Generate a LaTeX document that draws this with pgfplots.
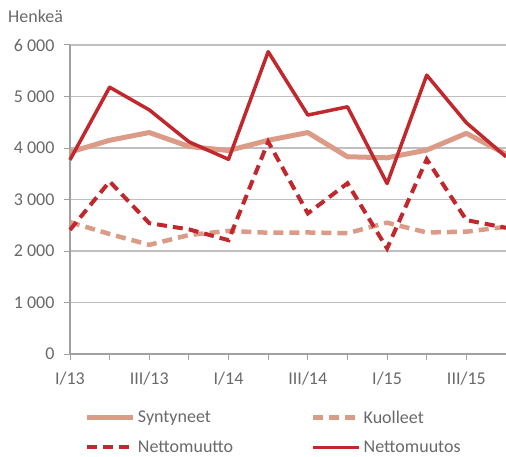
\documentclass[border=0pt]{standalone}
\usepackage{fontspec}
\setmainfont{Carlito}
\usepackage{pgfplots}
\pgfplotsset{compat=1.18}
\definecolor{dred}{RGB}{192,40,45}
\definecolor{lsal}{RGB}{220,155,135}
\definecolor{tgray}{RGB}{105,105,105}
\definecolor{gridgray}{RGB}{191,191,191}
\definecolor{axgray}{RGB}{160,160,160}
\pgfplotstableread{
x syn kuo netto nettos
0  3920 2560 2410 3770
1  4150 2330 3350 5180
2  4300 2120 2540 4740
3  4030 2310 2420 4120
4  3950 2390 2210 3780
5  4150 2355 4120 5870
6  4300 2360 2730 4640
7  3830 2345 3315 4800
8  3810 2550 2050 3310
9  3960 2360 3780 5415
10 4285 2375 2600 4490
11 3880 2470 2450 3830
}\data
\begin{document}
\begin{tikzpicture}[x=1pt,y=1pt]
\useasboundingbox (0,0) rectangle (506,456);
\node[anchor=base west, font=\fontsize{18}{21}\selectfont, text=tgray, inner sep=0pt] at (8,433) {Henkeä};
\begin{axis}[
  at={(70pt,102pt)}, anchor=south west,
  scale only axis, width=436pt, height=309pt,
  xmin=0, xmax=11, ymin=0, ymax=6000,
  axis lines*=left,
  axis line style={draw=axgray, line width=1.2pt},
  ytick={0,1000,...,6000},
  yticklabels={0,{1 000},{2 000},{3 000},{4 000},{5 000},{6 000}},
  xtick={0,2,...,10},
  xticklabels={I/13,III/13,I/14,III/14,I/15,III/15},
  minor xtick={1,3,...,11},
  ymajorgrids,
  grid style={draw=gridgray, line width=1.2pt},
  tick align=outside,
  major tick length=6pt, minor tick length=6pt,
  tick style={draw=axgray, line width=1pt},
  every tick/.style={draw=axgray, line width=1pt},
  tick label style={font=\fontsize{18}{21}\selectfont, text=tgray},
  xticklabel style={yshift=-8pt},
  yticklabel style={xshift=-6pt},
  clip=false,
  legend columns=2,
  legend cell align=left,
  legend style={at={(0.027,-0.17)}, anchor=north west, draw=none, fill=none,
    font=\fontsize{18}{21}\selectfont, text=tgray, row sep=12pt,
    /tikz/every even column/.append style={column sep=76pt}},
  legend image code/.code={\draw[#1] (0pt,0pt) -- (46pt,0pt);},
]
\addplot[lsal, line width=5pt, line join=round] table[x=x,y=syn] {\data};
\addlegendentry{Syntyneet}
\addplot[lsal, line width=4.5pt, dash pattern=on 10pt off 6pt] table[x=x,y=kuo] {\data};
\addlegendentry{Kuolleet}
\addplot[dred, line width=4pt, dash pattern=on 10pt off 6pt] table[x=x,y=netto] {\data};
\addlegendentry{Nettomuutto}
\addplot[dred, line width=3.5pt, line join=round] table[x=x,y=nettos] {\data};
\addlegendentry{Nettomuutos}
\end{axis}
\end{tikzpicture}
\end{document}
